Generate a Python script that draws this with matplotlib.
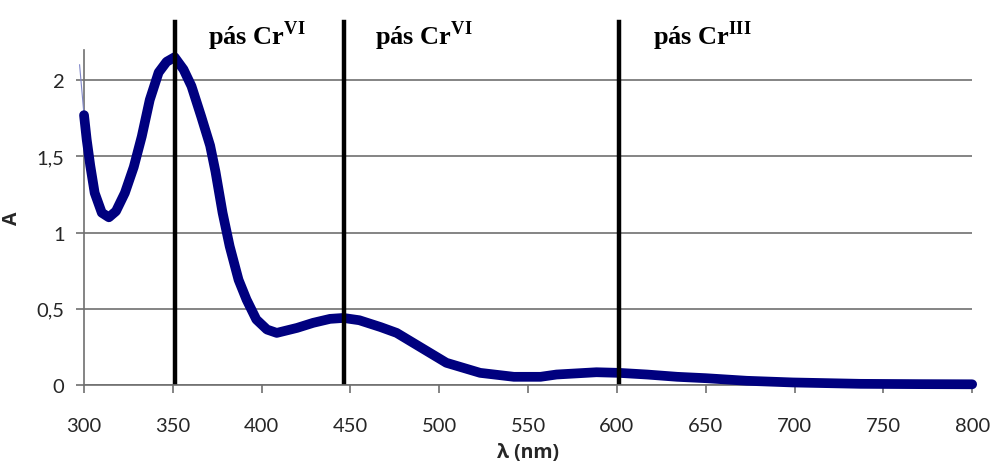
import matplotlib
matplotlib.use("Agg")
import matplotlib.pyplot as plt

# Absorbance spectrum (wavelength in nm, absorbance A)
wavelength = [300, 301.5, 303.5, 306, 310, 314, 318, 323, 328, 332.5, 337, 342, 346.5, 351,
              356, 360.5, 366, 371, 374, 378, 382, 387, 391.5, 397, 403, 408.5, 420, 429,
              438.5, 446, 455, 467, 476, 487, 504, 523, 542, 557, 566, 588.5, 601, 617, 634,
              650, 673, 699, 737, 770, 800]
absorbance = [1.77, 1.61, 1.44, 1.26, 1.13, 1.10, 1.14, 1.26, 1.43, 1.63, 1.87, 2.05, 2.12,
              2.15, 2.07, 1.96, 1.76, 1.57, 1.40, 1.13, 0.91, 0.69, 0.56, 0.43, 0.364, 0.342,
              0.375, 0.408, 0.434, 0.44, 0.425, 0.38, 0.342, 0.265, 0.146, 0.08, 0.054, 0.054,
              0.069, 0.084, 0.08, 0.069, 0.054, 0.045, 0.028, 0.017, 0.008, 0.006, 0.005]

# short thin lead-in trace at the start of the scan
lead_wavelength = [297.5, 300]
lead_absorbance = [2.10, 1.77]

# absorption band positions and their labels
band_wavelength = [351, 446.5, 601]
band_label = ["pás Cr$^{\\mathbf{VI}}$", "pás Cr$^{\\mathbf{VI}}$", "pás Cr$^{\\mathbf{III}}$"]
label_wavelength = [370, 464, 620.5]

x_ticks = [300, 350, 400, 450, 500, 550, 600, 650, 700, 750, 800]
y_ticks = [0, 0.5, 1, 1.5, 2]
y_tick_labels = ["0", "0,5", "1", "1,5", "2"]

plt.rcParams["mathtext.fontset"] = "custom"
plt.rcParams["mathtext.rm"] = "Liberation Serif"
plt.rcParams["mathtext.bf"] = "Liberation Serif:bold"

fig = plt.figure(figsize=(9.92, 4.64), dpi=100)
ax = fig.add_axes([0.0847, 0.168, 0.8953, 0.723])

navy = "#00007f"
ax.plot(lead_wavelength, lead_absorbance, color="#7f86c8", lw=0.8, clip_on=False, zorder=3)
ax.plot(wavelength, absorbance, color=navy, lw=7, solid_capstyle="round",
        solid_joinstyle="round", clip_on=False, zorder=4)

ax.set_xlim(300, 800)
ax.set_ylim(0, 2.2)
ax.set_xticks(x_ticks)
ax.set_yticks(y_ticks)
ax.set_yticklabels(y_tick_labels)

for lab in ax.get_xticklabels() + ax.get_yticklabels():
    lab.set_fontfamily("Lato")
    lab.set_fontsize(14.5)
    lab.set_color("#262626")

ax.grid(axis="y", color="#707070", lw=1.2)
ax.grid(axis="x", visible=False)
ax.set_axisbelow(True)
for side in ["top", "right"]:
    ax.spines[side].set_visible(False)
for side in ["left", "bottom"]:
    ax.spines[side].set_color("#707070")
    ax.spines[side].set_linewidth(1.2)
ax.tick_params(axis="both", direction="out", length=6, width=1.2, color="#707070")
ax.tick_params(axis="x", pad=17)
ax.tick_params(axis="y", pad=8)

ax.set_xlabel("λ (nm)", family="Open Sans", weight="bold", size=14, color="#262626", va="top")
ax.xaxis.set_label_coords(0.5, -0.17)
ax.set_ylabel("A", family="Open Sans", weight="bold", size=14, color="#262626")
ax.yaxis.set_label_coords(-0.07, 0.5)

# vertical band markers with their labels above the plot
trans = ax.get_xaxis_transform()
for xb, lab, xl in zip(band_wavelength, band_label, label_wavelength):
    ax.plot([xb, xb], [0.009, 1.082], transform=trans, color="black", lw=3.2,
            clip_on=False, zorder=5)
    ax.text(xl, 1.016, lab, transform=trans, family="Liberation Serif", weight="bold",
            size=19, ha="left", va="baseline", clip_on=False)

fig.savefig("out.png", dpi=100)
